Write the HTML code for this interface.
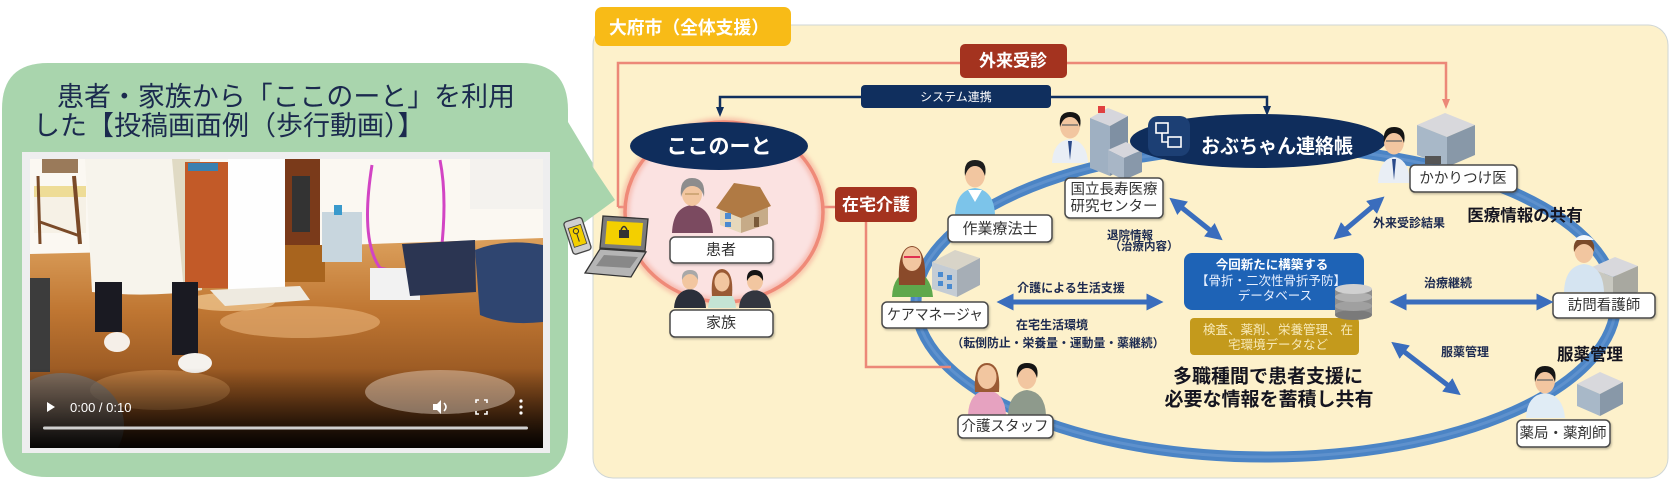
<!DOCTYPE html>
<html><head><meta charset="utf-8">
<style>
html,body{margin:0;padding:0;background:#fff;}
svg{display:block;}
text{font-family:"Liberation Sans","Noto Sans CJK JP",sans-serif;}
</style></head>
<body>
<svg width="1675" height="494" viewBox="0 0 1675 494" xmlns="http://www.w3.org/2000/svg">
<defs>
  <linearGradient id="floor" x1="0" y1="0" x2="0" y2="1">
    <stop offset="0" stop-color="#dca05c"/>
    <stop offset="0.35" stop-color="#bf7632"/>
    <stop offset="0.75" stop-color="#8e501e"/>
    <stop offset="1" stop-color="#5a3012"/>
  </linearGradient>
  <linearGradient id="dark" x1="0" y1="0" x2="0" y2="1">
    <stop offset="0" stop-color="#000" stop-opacity="0"/>
    <stop offset="0.55" stop-color="#000" stop-opacity="0.5"/>
    <stop offset="1" stop-color="#000" stop-opacity="0.95"/>
  </linearGradient>
  <clipPath id="vc"><rect x="30" y="159" width="513" height="289"/></clipPath>
  <marker id="bh" viewBox="0 0 10 10" refX="5" refY="5" markerWidth="3.4" markerHeight="3.4" orient="auto-start-reverse">
    <path d="M0,0 L10,5 L0,10 Z" fill="#3a6dbd"/>
  </marker>
  <marker id="sh" viewBox="0 0 10 10" refX="5" refY="5" markerWidth="4" markerHeight="4" orient="auto-start-reverse">
    <path d="M0,1 L10,5 L0,9 Z" fill="#ec8878"/>
  </marker>
  <marker id="nh" viewBox="0 0 10 10" refX="5" refY="5" markerWidth="4" markerHeight="4" orient="auto-start-reverse">
    <path d="M0,1 L10,5 L0,9 Z" fill="#102f5e"/>
  </marker>
  <filter id="sd" x="-10%" y="-10%" width="130%" height="140%">
    <feDropShadow dx="1" dy="1.5" stdDeviation="1" flood-color="#000" flood-opacity="0.25"/>
  </filter>
  <filter id="glow"><feGaussianBlur stdDeviation="2"/></filter>
</defs>

<!-- ===== Left speech bubble ===== -->
<path d="M48,63 L521,63 Q568,63 568,110 L568,122 L615,200 L568,234 L568,432 Q568,477 523,477 L47,477 Q2,477 2,432 L2,109 Q2,63 48,63 Z" fill="#a9d5ad"/>
<text x="57" y="106" font-size="27" fill="#1b2a4e" textLength="458" lengthAdjust="spacingAndGlyphs">患者・家族から「ここのーと」を利用</text>
<text x="33" y="135" font-size="27" fill="#1b2a4e">した【投稿画面例（歩行動画）】</text>

<!-- video frame -->
<rect x="22" y="152" width="528" height="301" fill="#eeeeef"/>
<g clip-path="url(#vc)">
  <rect x="30" y="159" width="513" height="289" fill="#fbf8f2"/>
  <path d="M30,254 L200,250 L543,238 L543,448 L30,448 Z" fill="url(#floor)"/>
  <ellipse cx="300" cy="322" rx="80" ry="16" fill="#eab47a" opacity="0.6"/>
  <ellipse cx="230" cy="302" rx="45" ry="9" fill="#f2cc95" opacity="0.7"/>
  <ellipse cx="160" cy="390" rx="70" ry="20" fill="#d89858" opacity="0.5"/>
  <!-- chair -->
  <rect x="42" y="159" width="36" height="14" fill="#9a7a5a"/>
  <rect x="34" y="186" width="52" height="11" fill="#eedc96"/>
  <rect x="34" y="197" width="52" height="36" fill="#f6f1e6"/>
  <path d="M74,176 L80,244" stroke="#7a4a28" stroke-width="4"/>
  <path d="M38,176 L40,244" stroke="#7a4a28" stroke-width="3"/>
  <path d="M40,222 L80,236" stroke="#7a4a28" stroke-width="3"/>
  <!-- coat -->
  <path d="M85,159 L200,159 L202,290 Q150,298 92,292 Z" fill="#f7f4ec"/>
  <path d="M172,159 L200,159 L202,290 L184,292 Z" fill="#e0dac4"/>
  <!-- cabinet -->
  <rect x="185" y="162" width="45" height="126" fill="#c25a28"/>
  <rect x="188" y="163" width="30" height="8" fill="#3a80b0"/>
  <!-- white pillar -->
  <rect x="228" y="159" width="57" height="136" fill="#fefefe"/>
  <path d="M210,290 L300,286 L310,300 L225,306 Z" fill="#eeeae0"/>
  <!-- dark cabinet -->
  <rect x="285" y="159" width="35" height="86" fill="#7a3a1a"/>
  <rect x="292" y="176" width="18" height="56" fill="#333"/>
  <rect x="285" y="245" width="40" height="37" fill="#a8641e"/>
  <rect x="322" y="212" width="40" height="50" fill="#c8d6de"/>
  <rect x="334" y="205" width="8" height="10" fill="#3a9acc"/>
  <!-- hoop -->
  <path d="M372,165 Q360,240 380,268 Q410,275 440,262 Q448,200 440,160" fill="none" stroke="#d244c4" stroke-width="3"/>
  <!-- clothes & backpack -->
  <rect x="370" y="268" width="50" height="32" fill="#f2f2f2"/>
  <path d="M402,244 L475,240 L476,292 L410,296 Z" fill="#2b3552"/>
  <path d="M475,250 Q505,238 543,245 L543,322 Q505,326 480,315 Z" fill="#2f4570"/>
  <rect x="470" y="159" width="73" height="50" fill="#f4f2ee"/>
  <!-- pants & feet -->
  <rect x="95" y="282" width="27" height="50" fill="#1a1a22"/>
  <rect x="172" y="282" width="26" height="73" fill="#1a1a22"/>
  <ellipse cx="117" cy="342" rx="13" ry="10" fill="#f5efe8"/>
  <ellipse cx="195" cy="363" rx="17" ry="10" fill="#f5f2ee"/>
  <!-- couch & round object -->
  <rect x="30" y="278" width="20" height="94" fill="#3c3c3c"/>
  <ellipse cx="62" cy="425" rx="62" ry="52" fill="#777" opacity="0.7"/>
  <!-- dark gradient -->
  <rect x="30" y="368" width="513" height="80" fill="url(#dark)"/>
  <ellipse cx="440" cy="392" rx="75" ry="22" fill="#e8d8c8" opacity="0.45"/>
  <!-- controls -->
  <path d="M47,402 L55,407 L47,412 Z" fill="#fff"/>
  <text x="70" y="412" font-size="13" fill="#fff">0:00 / 0:10</text>
  <path d="M433,404 L437,404 L441,400 L441,414 L437,410 L433,410 Z" fill="#fff"/>
  <path d="M444,403 Q448,407 444,411" fill="none" stroke="#fff" stroke-width="1.5"/>
  <path d="M476,403 L476,400 L479,400 M484,400 L487,400 L487,403 M487,411 L487,414 L484,414 M479,414 L476,414 L476,411" fill="none" stroke="#fff" stroke-width="1.6"/>
  <circle cx="521" cy="401" r="1.6" fill="#fff"/>
  <circle cx="521" cy="407" r="1.6" fill="#fff"/>
  <circle cx="521" cy="413" r="1.6" fill="#fff"/>
  <rect x="43" y="426.5" width="485" height="3" rx="1.5" fill="#d0d0d0"/>
</g>

<!-- ===== Right panel ===== -->
<rect x="593" y="25" width="1075" height="453" rx="20" fill="#fdf1cb" stroke="#cfd6d6" stroke-width="1"/>
<!-- bubble tail over panel -->
<path d="M560,118 L615,200 L566,236 Z" fill="#a9d5ad"/>

<!-- yellow label -->
<rect x="595" y="7" width="196" height="39" rx="7" fill="#f8bb17"/>
<text x="689" y="28" font-size="18" font-weight="bold" fill="#fff" text-anchor="middle" dominant-baseline="central" textLength="160" lengthAdjust="spacingAndGlyphs">大府市（全体支援）</text>

<!-- big blue ring -->
<ellipse cx="1266" cy="302" rx="350" ry="155" fill="none" stroke="#4b84c5" stroke-width="11"/>
<ellipse cx="1266" cy="302" rx="350" ry="155" fill="none" stroke="#6a9ad2" stroke-width="3" opacity="0.6"/>

<!-- salmon lines -->
<polyline points="618,207 618,63 1446,63 1446,104" fill="none" stroke="#ec8878" stroke-width="2.5" marker-end="url(#sh)"/>
<line x1="618" y1="207" x2="662" y2="207" stroke="#ec8878" stroke-width="2.5"/>
<line x1="835" y1="207" x2="792" y2="207" stroke="#ec8878" stroke-width="2.5" marker-end="url(#sh)"/>
<polyline points="866,222 866,367 951,367" fill="none" stroke="#ec8878" stroke-width="2.5"/>

<!-- navy system line -->
<polyline points="720,112 720,97 1267,97 1267,111" fill="none" stroke="#102f5e" stroke-width="2.5" marker-start="url(#nh)" marker-end="url(#nh)"/>

<!-- 外来受診 box -->
<rect x="960" y="44" width="107" height="34" rx="5" fill="#a4331f"/>
<text x="1013" y="61" font-size="17" font-weight="bold" fill="#fff" text-anchor="middle" dominant-baseline="central">外来受診</text>

<!-- システム連携 -->
<rect x="861" y="85" width="190" height="23" rx="4" fill="#102f5e"/>
<text x="956" y="97" font-size="12" fill="#fff" text-anchor="middle" dominant-baseline="central">システム連携</text>

<!-- pink circle -->
<ellipse cx="724" cy="212" rx="99" ry="90" fill="#fbe2e1"/>
<ellipse cx="724" cy="212" rx="99" ry="90" fill="none" stroke="#f3a090" stroke-width="9" opacity="0.55" filter="url(#glow)"/>
<ellipse cx="724" cy="212" rx="99" ry="90" fill="none" stroke="#ef8a78" stroke-width="3.5"/>

<!-- ここのーと ellipse -->
<ellipse cx="719" cy="146" rx="89" ry="24" fill="#0f2d5c"/>
<text x="719" y="147" font-size="21" font-weight="bold" fill="#fff" text-anchor="middle" dominant-baseline="central">ここのーと</text>

<!-- 在宅介護 box -->
<rect x="835" y="187" width="82" height="35" rx="5" fill="#a4331f"/>
<text x="876" y="205" font-size="17" font-weight="bold" fill="#fff" text-anchor="middle" dominant-baseline="central">在宅介護</text>

<!-- phone & laptop -->
<g transform="rotate(-18 577 236)">
  <rect x="568" y="219" width="19" height="34" rx="3" fill="#cfcfcf" stroke="#444" stroke-width="1.3"/>
  <rect x="571" y="226" width="13" height="20" fill="#f3cf00" stroke="#444" stroke-width="0.8"/>
  <circle cx="577.5" cy="231" r="2.6" fill="none" stroke="#333" stroke-width="1"/>
  <line x1="577.5" y1="233.5" x2="577.5" y2="242" stroke="#333" stroke-width="1"/>
</g>
<path d="M603,216 L648,219 L645,251 L600,248 Z" fill="#7a7a7a" stroke="#333" stroke-width="1.3"/>
<path d="M607,221 L643,223 L641,246 L605,244 Z" fill="#f3cf00"/>
<rect x="619" y="230" width="10" height="8" fill="#333"/>
<path d="M621,230 Q624,223 627,230" fill="none" stroke="#333" stroke-width="1.5"/>
<path d="M600,249 L646,252 L631,277 L585,273 Z" fill="#b5b5b5" stroke="#333" stroke-width="1.3"/>
<path d="M604,255 L638,257 L630,268 L596,266 Z" fill="#888"/>

<!-- 患者 person + house -->
<path d="M672,233 Q673,207 692,205 Q711,207 713,233 Z" fill="#7b4a60"/>
<ellipse cx="692" cy="194" rx="10" ry="12" fill="#f2c6a0"/>
<path d="M681,197 Q679,178 692,178 Q706,178 704,197 Q701,186 692,186 Q684,186 681,197 Z" fill="#8d8d8d"/>
<line x1="685" y1="194" x2="699" y2="194" stroke="#b08a50" stroke-width="1"/>
<path d="M720,207 L741,216 L741,233 L720,225 Z" fill="#e6d8bb"/>
<path d="M741,216 L768,206 L768,224 L741,233 Z" fill="#c6ab88"/>
<path d="M716,208 L734,183 L760,187 L771,206 L741,218 Z" fill="#b07a44"/>
<rect x="725" y="213" width="6" height="6" fill="#4a8ad0"/>
<rect x="725" y="222" width="6" height="5" fill="#4a8ad0"/>
<rect x="754" y="217" width="5" height="10" fill="#7a5a3a"/>

<!-- family -->
<path d="M674,308 Q675,291 690,289 Q705,291 706,308 Z" fill="#2b2f3a"/>
<ellipse cx="690" cy="280" rx="8" ry="9.5" fill="#f2c6a0"/>
<path d="M682,280 Q681,270 690,270 Q699,270 698,280 Q695,274 690,274 Q685,274 682,280 Z" fill="#a8a8a8"/>
<path d="M708,308 Q709,292 722,290 Q735,292 736,308 Z" fill="#c4e4d4"/>
<path d="M712,296 Q710,270 722,269 Q734,270 732,296 Z" fill="#9a5a34"/>
<ellipse cx="722" cy="282" rx="7.5" ry="9.5" fill="#f2c6a0"/>
<path d="M739,308 Q740,292 755,290 Q770,292 771,308 Z" fill="#33363f"/>
<ellipse cx="755" cy="281" rx="8" ry="9.5" fill="#f2c6a0"/>
<path d="M747,281 Q746,270 755,270 Q764,270 763,281 Q760,275 755,275 Q750,275 747,281 Z" fill="#151515"/>

<!-- 作業療法士 person -->
<path d="M955,215 Q956,190 975,188 Q994,190 995,215 Z" fill="#7cc4ea"/>
<path d="M968,190 L975,202 L982,190 Z" fill="#fff"/>
<ellipse cx="975" cy="175" rx="10" ry="12.5" fill="#f2c6a0"/>
<path d="M965,176 Q963,160 975,160 Q988,160 985,176 Q982,166 975,166 Q968,166 965,176 Z" fill="#1e1e1e"/>

<!-- ケアマネージャ woman + building -->
<path d="M932,262 L955,250 L980,258 L957,270 Z" fill="#d8d4c8"/>
<path d="M932,262 L957,270 L957,297 L932,289 Z" fill="#c4ccd4"/>
<path d="M957,270 L980,258 L980,285 L957,297 Z" fill="#a6aeb6"/>
<rect x="938" y="272" width="5" height="5" fill="#4a8ad0"/>
<rect x="947" y="275" width="5" height="5" fill="#4a8ad0"/>
<rect x="938" y="281" width="5" height="5" fill="#4a8ad0"/>
<rect x="947" y="284" width="5" height="5" fill="#4a8ad0"/>
<path d="M892,297 Q893,273 912,271 Q931,273 933,297 Z" fill="#5ea84c"/>
<path d="M899,285 Q897,247 912,246 Q927,247 925,285 Z" fill="#8a4a2a"/>
<ellipse cx="912" cy="259" rx="9.5" ry="12" fill="#f2c6a0"/>
<path d="M904,257 L920,257" stroke="#e03050" stroke-width="2"/>

<!-- 介護スタッフ -->
<path d="M968,415 Q969,392 987,390 Q1005,392 1006,415 Z" fill="#e6a2c0"/>
<path d="M975,392 Q973,363 987,363 Q1001,363 999,392 Z" fill="#9a5a34"/>
<ellipse cx="987" cy="377" rx="9.5" ry="12" fill="#f2c6a0"/>
<path d="M1008,415 Q1009,392 1027,390 Q1045,392 1046,415 Z" fill="#8e9a8c"/>
<ellipse cx="1027" cy="377" rx="9.5" ry="12" fill="#f2c6a0"/>
<path d="M1017,378 Q1015,363 1027,363 Q1040,363 1037,378 Q1034,368 1027,368 Q1020,368 1017,378 Z" fill="#151515"/>

<!-- 国立 doctor + buildings -->
<path d="M1090,118 L1108,108 L1128,116 L1110,126 Z" fill="#d6d6dc"/>
<path d="M1090,118 L1110,126 L1110,176 L1090,168 Z" fill="#9fb0c2"/>
<path d="M1110,126 L1128,116 L1128,166 L1110,176 Z" fill="#7f90a3"/>
<rect x="1098" y="106" width="7" height="7" fill="#e04040"/>
<path d="M1108,150 L1126,142 L1142,150 L1124,158 Z" fill="#d6d6dc"/>
<path d="M1108,150 L1124,158 L1124,180 L1108,172 Z" fill="#a8b6c6"/>
<path d="M1124,158 L1142,150 L1142,172 L1124,180 Z" fill="#8898aa"/>
<path d="M1052,163 Q1053,141 1070,139 Q1087,141 1088,163 Z" fill="#e9eef5"/>
<path d="M1068,141 L1070,160 L1072,141 Z" fill="#2a4a8a"/>
<ellipse cx="1070" cy="126" rx="10" ry="12.5" fill="#f2c6a0"/>
<path d="M1060,127 Q1058,112 1070,112 Q1083,112 1080,127 Q1077,117 1070,117 Q1063,117 1060,127 Z" fill="#151515"/>
<path d="M1062,125 L1078,125" stroke="#666" stroke-width="1.3"/>

<!-- おぶちゃん連絡帳 -->
<ellipse cx="1258" cy="141" rx="128" ry="27" fill="#0f2d5c"/>
<rect x="1148" y="116" width="42" height="40" rx="10" fill="#1c3f74"/>
<rect x="1156" y="123" width="12" height="10" fill="none" stroke="#fff" stroke-width="1.6"/>
<rect x="1168" y="137" width="13" height="10" fill="none" stroke="#fff" stroke-width="1.6"/>
<path d="M1162,133 L1162,142 L1168,142" fill="none" stroke="#fff" stroke-width="1.6"/>
<text x="1277" y="147" font-size="20" font-weight="bold" fill="#fff" text-anchor="middle" dominant-baseline="central" textLength="152" lengthAdjust="spacingAndGlyphs">おぶちゃん連絡帳</text>

<!-- かかりつけ医 doctor + building -->
<path d="M1417,125 L1445,113 L1475,125 L1447,137 Z" fill="#d8d8dc"/>
<path d="M1417,125 L1447,137 L1447,167 L1417,155 Z" fill="#a8b8c8"/>
<path d="M1447,137 L1475,125 L1475,155 L1447,167 Z" fill="#8898a8"/>
<rect x="1425" y="156" width="16" height="8" fill="#555"/>
<path d="M1378,183 Q1379,159 1394,157 Q1409,159 1410,183 Z" fill="#e9eef5"/>
<path d="M1392,159 L1394,180 L1396,159 Z" fill="#2a4a8a"/>
<ellipse cx="1394" cy="142" rx="10" ry="12.5" fill="#f2c6a0"/>
<path d="M1384,143 Q1382,127 1394,127 Q1407,127 1404,143 Q1401,133 1394,133 Q1387,133 1384,143 Z" fill="#151515"/>
<path d="M1386,141 L1402,141" stroke="#666" stroke-width="1.3"/>

<!-- 訪問看護師 nurse + building -->
<path d="M1590,268 L1615,257 L1638,266 L1613,277 Z" fill="#d8d8dc"/>
<path d="M1613,277 L1638,266 L1638,292 L1613,300 Z" fill="#a8a8a0"/>
<path d="M1590,268 L1613,277 L1613,300 L1590,292 Z" fill="#c8c8c0"/>
<path d="M1564,292 Q1565,266 1584,264 Q1603,266 1604,292 Z" fill="#d5e4f1"/>
<ellipse cx="1584" cy="251" rx="9.5" ry="12" fill="#f2c6a0"/>
<path d="M1574,252 Q1572,238 1584,238 Q1596,238 1594,252 Q1590,244 1584,244 Q1578,244 1574,252 Z" fill="#7a4a2a"/>
<path d="M1574,240 Q1584,230 1594,240 Z" fill="#f4f8fc"/>

<!-- 薬局 pharmacist + building -->
<path d="M1577,384 L1600,372 L1623,382 L1600,394 Z" fill="#d8d8dc"/>
<path d="M1577,384 L1600,394 L1600,416 L1577,406 Z" fill="#a8b8c8"/>
<path d="M1600,394 L1623,382 L1623,404 L1600,416 Z" fill="#8898a8"/>
<path d="M1526,418 Q1527,395 1545,393 Q1563,395 1565,418 Z" fill="#e0ecf5"/>
<ellipse cx="1545" cy="381" rx="10" ry="12.5" fill="#f2c6a0"/>
<path d="M1535,382 Q1533,366 1545,366 Q1558,366 1555,382 Q1552,372 1545,372 Q1538,372 1535,382 Z" fill="#151515"/>
<path d="M1537,380 L1553,380" stroke="#666" stroke-width="1.3"/>

<!-- label boxes -->
<g filter="url(#sd)" fill="#fff" stroke="#4a4a4a" stroke-width="1.5">
  <rect x="670" y="237" width="103" height="26" rx="5"/>
  <rect x="670" y="310" width="103" height="27" rx="5"/>
  <rect x="948" y="215" width="104" height="27" rx="5"/>
  <rect x="1065" y="178" width="98" height="40" rx="5"/>
  <rect x="882" y="302" width="106" height="26" rx="5"/>
  <rect x="1410" y="165" width="107" height="27" rx="5"/>
  <rect x="1553" y="293" width="102" height="25" rx="5"/>
  <rect x="1517" y="420" width="93" height="27" rx="5"/>
  <rect x="958" y="415" width="95" height="23" rx="5"/>
</g>
<g font-size="15" fill="#333" text-anchor="middle" dominant-baseline="central">
  <text x="721" y="250">患者</text>
  <text x="721" y="323">家族</text>
  <text x="1000" y="229">作業療法士</text>
  <text x="1114" y="190" font-size="14.5">国立長寿医療</text>
  <text x="1114" y="207" font-size="14.5">研究センター</text>
  <text x="935" y="315" textLength="96" lengthAdjust="spacingAndGlyphs">ケアマネージャ</text>
  <text x="1463" y="179" font-size="14.5">かかりつけ医</text>
  <text x="1604" y="306" font-size="14.5">訪問看護師</text>
  <text x="1563" y="434" font-size="14.5">薬局・薬剤師</text>
  <text x="1005" y="427" font-size="14.5">介護スタッフ</text>
</g>

<!-- blue double arrows -->
<g stroke="#3a6dbd" stroke-width="5" marker-start="url(#bh)" marker-end="url(#bh)">
  <line x1="1176" y1="203" x2="1216" y2="235"/>
  <line x1="1340" y1="234" x2="1378" y2="202"/>
  <line x1="1005" y1="302" x2="1155" y2="302"/>
  <line x1="1398" y1="302" x2="1545" y2="302"/>
  <line x1="1398" y1="347" x2="1454" y2="390"/>
</g>

<!-- DB box -->
<rect x="1184" y="253" width="180" height="57" rx="8" fill="#1e63b6"/>
<text x="1272" y="265" font-size="12.5" font-weight="bold" fill="#fff" text-anchor="middle" dominant-baseline="central">今回新たに構築する</text>
<text x="1271" y="281" font-size="12.5" fill="#e8f0ff" text-anchor="middle" dominant-baseline="central">【骨折・二次性骨折予防】</text>
<text x="1275" y="296" font-size="12.5" fill="#e8f0ff" text-anchor="middle" dominant-baseline="central">データベース</text>
<rect x="1190" y="318" width="169" height="37" rx="4" fill="#c49a1c"/>
<text x="1278" y="330" font-size="12.5" fill="#f7e9b8" text-anchor="middle" dominant-baseline="central">検査、薬剤、栄養管理、在</text>
<text x="1278" y="345" font-size="12.5" fill="#f7e9b8" text-anchor="middle" dominant-baseline="central">宅環境データなど</text>
<!-- cylinder -->
<rect x="1335" y="289" width="37" height="26" fill="#8e8e8e"/>
<ellipse cx="1353.5" cy="315" rx="18.5" ry="5" fill="#7a7a7a"/>
<ellipse cx="1353.5" cy="306" rx="18.5" ry="5" fill="#a0a0a0"/>
<ellipse cx="1353.5" cy="297" rx="18.5" ry="5" fill="#b0b0b0"/>
<ellipse cx="1353.5" cy="289" rx="18.5" ry="5" fill="#d0d0d0"/>

<!-- small bold labels -->
<g font-size="12" font-weight="bold" fill="#1c2a50" text-anchor="middle" dominant-baseline="central">
  <text x="1130" y="236" font-size="11.5">退院情報</text>
  <text x="1144" y="247" font-size="11.5">（治療内容）</text>
  <text x="1409" y="223">外来受診結果</text>
  <text x="1071" y="288">介護による生活支援</text>
  <text x="1052" y="325">在宅生活環境</text>
  <text x="1058" y="343" textLength="213" lengthAdjust="spacingAndGlyphs">（転倒防止・栄養量・運動量・薬継続）</text>
  <text x="1448" y="283">治療継続</text>
  <text x="1465" y="352">服薬管理</text>
</g>
<g font-weight="bold" fill="#151520" text-anchor="middle" dominant-baseline="central">
  <text x="1525" y="216" font-size="16.5">医療情報の共有</text>
  <text x="1590" y="355" font-size="16.5">服薬管理</text>
  <text x="1268" y="377" font-size="19">多職種間で患者支援に</text>
  <text x="1269" y="400" font-size="19">必要な情報を蓄積し共有</text>
</g>
</svg>
</body></html>
